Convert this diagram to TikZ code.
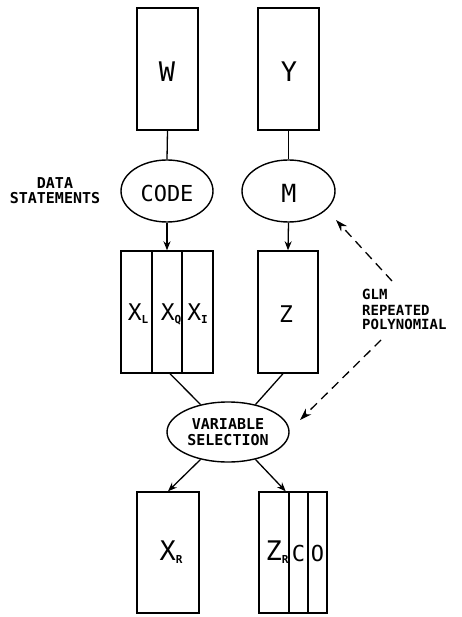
\documentclass[tikz,border=0pt]{standalone}
\usepackage{fontspec}
\newfontfamily\plotfont{DejaVu Sans Mono}
\usetikzlibrary{shapes.geometric,arrows.meta}
\newcommand{\fs}[1]{\fontsize{#1}{#1}\selectfont}
\newcommand{\subs}[1]{\raisebox{-3pt}{\fs{11}\bfseries #1}}
\begin{document}
\begin{tikzpicture}[x=1pt,y=-1pt,
  box/.style={draw,line width=1.4pt,inner sep=0pt,minimum width=#1,minimum height=122pt},
  oval/.style={draw,ellipse,line width=1.4pt,inner sep=0pt},
  lbl/.style={font=\plotfont,inner sep=0pt},
  conn/.style={line width=1.3pt},
  arr/.style={line width=1.3pt,-{Stealth[length=9pt,width=7pt]}},
  darr/.style={line width=1.3pt,dash pattern=on 9pt off 6pt,-{Stealth[length=12pt,width=8pt]}}]
\useasboundingbox (0,0) rectangle (462,617);
\fill[white] (0,0) rectangle (462,617);
% top boxes
\node[box=61pt] (W) at (167.5,69) {};
\node[box=61pt] (Y) at (288.5,69) {};
\node[lbl,font=\plotfont\fs{27}] (Wt) at (167,72) {W};
\node[lbl,font=\plotfont\fs{27}] (Yt) at (289,72) {Y};
% ellipses
\node[oval,minimum width=92pt,minimum height=62pt] (CODE) at (167,191) {};
\node[oval,minimum width=93pt,minimum height=62pt] (M) at (288.5,191) {};
\node[lbl,font=\plotfont\fs{22}] (CODEt) at (167,193) {CODE};
\node[lbl,font=\plotfont\fs{25}] (Mt) at (289,193) {M};
% data statements
\node[lbl,font=\plotfont\bfseries\fs{15},align=center] (DS) at (55,190.5) {DATA\\[-0.5pt]STATEMENTS};
% X columns
\node[box=31pt] (XL) at (136.5,312) {};
\node[box=30pt] (XQ) at (167,312) {};
\node[box=31pt] (XI) at (197.5,312) {};
\node[lbl,font=\plotfont\fs{23}] (XLt) at (138,314) {X\subs{L}};
\node[lbl,font=\plotfont\fs{23}] (XQt) at (171,314) {X\subs{Q}};
\node[lbl,font=\plotfont\fs{23}] (XIt) at (197.5,314) {X\subs{I}};
% Z
\node[box=60pt] (Z) at (288,312) {};
\node[lbl,font=\plotfont\fs{23}] (Zt) at (286,314) {Z};
% GLM label
\node[lbl,font=\plotfont\bfseries\fs{14},align=left,anchor=north west] (GLM) at (362,289) {GLM\\[1.5pt]REPEATED\\[0pt]POLYNOMIAL};
% variable selection
\node[oval,minimum width=122pt,minimum height=60pt] (VS) at (228,432) {};
\node[lbl,font=\plotfont\bfseries\fs{15},align=center] (VSt) at (228,432.5) {VARIABLE\\[1pt]SELECTION};
% bottom boxes
\node[box=62pt,minimum height=121pt] (XR) at (168,552.5) {};
\node[lbl,font=\plotfont\fs{27}] (XRt) at (171,552) {X\subs{R}};
\node[box=30pt,minimum height=121pt] (ZR) at (274,552.5) {};
\node[box=19pt,minimum height=121pt] (C) at (298.5,552.5) {};
\node[box=19pt,minimum height=121pt] (O) at (317.5,552.5) {};
\node[lbl,font=\plotfont\fs{27}] (ZRt) at (277,552) {Z\subs{R}};
\node[lbl,font=\plotfont\fs{22}] (Ct) at (298.5,553) {C};
\node[lbl,font=\plotfont\fs{22}] (Ot) at (317.5,553) {O};
% connectors
\draw[conn] (W.south) -- (CODE.north);
\draw[conn] (Y.south) -- (M.north);
\draw[arr] (CODE.south) -- (XQ.north);
\draw[arr] (M.south) -- (Z.north);
\draw[conn] ([xshift=3pt]XQ.south) -- (VS.135);
\draw[conn] ([xshift=-5pt]Z.south) -- (VS.45);
\draw[arr] (VS.-135) -- (XR.north);
\draw[arr] (VS.-45) -- ([xshift=-4pt]ZR.north east);
% dashed arrows
\coordinate (g1s) at (392,281);
\coordinate (g1e) at (336,220);
\coordinate (g2s) at (381,340);
\coordinate (g2e) at (300,420);
\draw[darr] (g1s) -- (g1e);
\draw[darr] (g2s) -- (g2e);
\end{tikzpicture}
\end{document}
